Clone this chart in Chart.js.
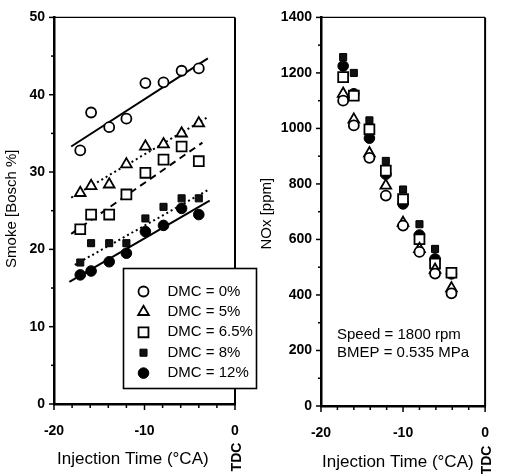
<!DOCTYPE html>
<html><head><meta charset="utf-8">
<script src="https://cdn.jsdelivr.net/npm/chart.js@4.4.1/dist/chart.umd.min.js"></script>
<style>
html,body{margin:0;padding:0;background:#fff;}
#wrap{position:relative;width:508px;height:474px;overflow:hidden;background:#fff;}
#c1{position:absolute;left:0;top:0;}
#c2{position:absolute;left:260px;top:0;}
</style></head><body>
<div id="wrap">
<canvas id="c1" width="260" height="474"></canvas>
<canvas id="c2" width="248" height="474"></canvas>
</div>
<script>
// ---------- data ----------
const seriesLabels = ['DMC = 0%', 'DMC = 5%', 'DMC = 6.5%', 'DMC = 8%', 'DMC = 12%'];

// Smoke (Bosch %) vs injection time (°CA)
const smokeTime   = [-17.1, -15.9, -13.9, -12.0, -9.9, -7.9, -5.9, -4.0];
const smokeDMC0   = [32.8, 37.7, 35.8, 36.9, 41.5, 41.6, 43.1, 43.4];
const smokeDMC5   = [27.3, 28.2, 28.4, 31.0, 33.3, 33.6, 35.0, 36.3];
const smokeDMC65  = [22.6, 24.5, 24.5, 27.1, 29.9, 31.6, 33.3, 31.4];
const smokeDMC8   = [18.3, 20.8, 20.8, 20.8, 24.0, 25.5, 26.6, 26.6];
const smokeDMC12  = [16.7, 17.2, 18.4, 19.5, 22.3, 23.1, 25.3, 24.5];

// fitted trend lines (start, end) for the smoke plot
const fitDMC0  = [[-18.1, 33.3], [-3.0, 44.7]];
const fitDMC5  = [[-18.1, 26.7], [-3.0, 37.1]];
const fitDMC65 = [[-18.1, 22.0], [-3.6, 33.8]];
const fitDMC8  = [[-17.7, 18.0], [-2.8, 27.8]];
const fitDMC12 = [[-18.3, 15.8], [-2.8, 26.3]];

// NOx (ppm) vs injection time (°CA)
const noxTime   = [-17.3, -16.0, -14.1, -12.1, -10.0, -8.0, -6.1, -4.1];
const noxDMC0   = [1100, 1011, 894, 758, 650, 555, 477, 406];
const noxDMC5   = [1125, 1032, 911, 794, 660, 566, 491, 424];
const noxDMC65  = [1185, 1118, 997, 848, 745, 601, 513, 480];
const noxDMC8   = [1257, 1200, 1029, 883, 780, 655, 566, 484];
const noxDMC12  = [1225, 1125, 965, 835, 728, 616, 530, 476];

// axis ticks
const timeMin = -20, timeMax = 0, timeStep = 10;
const timeMinorTicks = [-18, -16, -14, -12, -8, -6, -4, -2];
const smokeMin = 0, smokeMax = 50, smokeStep = 10;
const smokeMinorTicks = [5, 15, 25, 35, 45];
const noxMin = 0, noxMax = 1400, noxStep = 200;
const noxMinorTicks = [100, 300, 500, 700, 900, 1100, 1300];

const annotationLines = ['Speed = 1800 rpm', 'BMEP = 0.535 MPa'];

// ---------- styles ----------
const FONT = '"Liberation Sans", Arial, Helvetica, sans-serif';
const markerStyles = [
  {style: 'circle',   r: 5,   fill: '#fff', bw: 1.8},
  {style: 'triangle', r: 6.2, fill: '#fff', bw: 1.8},
  {style: 'rect',     r: 7,   fill: '#fff', bw: 1.8},
  {style: 'rect',     r: 5,   fill: '#111', bw: 1},
  {style: 'circle',   r: 5.3, fill: '#000', bw: 1}
];
const fitDashes = [[], [2, 3], [7, 5], [2, 3], []];

function markerSet(label, xs, ys, st) {
  return {
    label, type: 'scatter',
    data: xs.map((x, i) => ({x, y: ys[i]})),
    pointStyle: st.style, pointRadius: st.r, pointHoverRadius: st.r,
    pointBackgroundColor: st.fill, pointBorderColor: '#000', pointBorderWidth: st.bw,
    showLine: false
  };
}
function fitSet(pts, dash) {
  return {
    type: 'scatter', label: '',
    data: pts.map(([x, y]) => ({x, y})),
    showLine: true, pointRadius: 0, borderColor: '#000', borderWidth: 2,
    borderDash: dash, fill: false
  };
}

function drawMarker(ctx, st, x, y) {
  ctx.save();
  ctx.beginPath();
  const r = st.r;
  if (st.style === 'circle') {
    ctx.arc(x, y, r, 0, Math.PI * 2);
  } else if (st.style === 'triangle') {
    for (let k = 0; k < 3; k++) {
      const a = k * 2 * Math.PI / 3;
      const px = x + Math.sin(a) * r, py = y - Math.cos(a) * r;
      if (k === 0) ctx.moveTo(px, py); else ctx.lineTo(px, py);
    }
    ctx.closePath();
  } else {
    const s = r * Math.SQRT1_2;
    ctx.rect(x - s, y - s, 2 * s, 2 * s);
  }
  ctx.fillStyle = st.fill; ctx.fill();
  ctx.lineWidth = st.bw; ctx.strokeStyle = '#000'; ctx.stroke();
  ctx.restore();
}

const decor = {
  id: 'decor',
  afterDraw(chart, args, o) {
    const {ctx, chartArea: a} = chart;
    const xs = chart.scales.x, ys = chart.scales.y;
    ctx.save();
    ctx.strokeStyle = '#000';
    // frame
    ctx.lineWidth = 1.3;
    ctx.beginPath(); ctx.moveTo(a.left, a.top); ctx.lineTo(a.right, a.top); ctx.stroke();
    ctx.lineWidth = 2;
    ctx.beginPath(); ctx.moveTo(a.right, a.top); ctx.lineTo(a.right, a.bottom); ctx.stroke();
    // y ticks (outward)
    ctx.lineWidth = 1.5;
    ys.ticks.forEach(t => {
      const p = ys.getPixelForValue(t.value);
      ctx.beginPath(); ctx.moveTo(a.left - 5, p); ctx.lineTo(a.left, p); ctx.stroke();
    });
    o.yMinor.forEach(v => {
      const p = ys.getPixelForValue(v);
      ctx.beginPath(); ctx.moveTo(a.left - 3, p); ctx.lineTo(a.left, p); ctx.stroke();
    });
    // x ticks (downward)
    xs.ticks.forEach(t => {
      const p = xs.getPixelForValue(t.value);
      ctx.beginPath(); ctx.moveTo(p, a.bottom); ctx.lineTo(p, a.bottom + 6); ctx.stroke();
    });
    o.xMinor.forEach(v => {
      const p = xs.getPixelForValue(v);
      ctx.beginPath(); ctx.moveTo(p, a.bottom); ctx.lineTo(p, a.bottom + 4); ctx.stroke();
    });
    // titles
    ctx.fillStyle = '#000';
    ctx.font = '17px ' + FONT;
    ctx.textAlign = 'left'; ctx.textBaseline = 'middle';
    ctx.fillText(o.xTitle, a.left + o.xTitleDx, o.xTitleY);
    ctx.save();
    ctx.translate(o.yTitleX, (a.top + a.bottom) / 2 + o.yTitleDy);
    ctx.rotate(-Math.PI / 2);
    ctx.font = '15px ' + FONT;
    ctx.textAlign = 'center';
    ctx.fillText(o.yTitle, 0, 0);
    ctx.restore();
    // TDC
    ctx.save();
    ctx.translate(a.right + 2, o.tdcY);
    ctx.rotate(-Math.PI / 2);
    ctx.font = 'bold 14px ' + FONT;
    ctx.textAlign = 'center';
    ctx.fillText('TDC', 0, 0);
    ctx.restore();
    // legend
    if (o.legend) {
      const L = o.legend;
      ctx.fillStyle = '#fff';
      ctx.fillRect(L.x, L.y, L.w, L.h);
      ctx.lineWidth = 1.6; ctx.strokeStyle = '#000';
      ctx.strokeRect(L.x, L.y, L.w, L.h);
      ctx.font = '15px ' + FONT;
      ctx.textAlign = 'left'; ctx.textBaseline = 'middle';
      seriesLabels.forEach((lab, i) => {
        const yy = L.y + L.first + i * L.step;
        drawMarker(ctx, markerStyles[i], L.x + L.mx, yy);
        ctx.fillStyle = '#000';
        ctx.fillText(lab, L.x + L.tx, yy);
      });
    }
    // annotation
    if (o.notes) {
      ctx.fillStyle = '#000';
      ctx.font = '15px ' + FONT;
      ctx.textAlign = 'left'; ctx.textBaseline = 'middle';
      o.notes.lines.forEach((s, i) => ctx.fillText(s, o.notes.x, o.notes.y + i * o.notes.step));
    }
    ctx.restore();
  }
};

const plainNumber = v => String(v);

function xScale(h) {
  return {
    type: 'linear', position: 'bottom', min: timeMin, max: timeMax,
    ticks: {stepSize: timeStep, padding: 19, color: '#000', callback: plainNumber,
            font: {family: FONT, size: 14, weight: 'bold'}},
    grid: {display: false, drawTicks: false},
    border: {display: true, color: '#000', width: 2.5},
    afterFit(s) { s.height = h; }
  };
}
function yScale(min, max, step, w) {
  return {
    type: 'linear', position: 'left', min, max,
    ticks: {stepSize: step, padding: 9, color: '#000', callback: plainNumber,
            font: {family: FONT, size: 14, weight: 'bold'}},
    grid: {display: false, drawTicks: false},
    border: {display: true, color: '#000', width: 2.5},
    afterFit(s) { s.width = w; }
  };
}

const smokeSeries = [smokeDMC0, smokeDMC5, smokeDMC65, smokeDMC8, smokeDMC12];
const fits = [fitDMC0, fitDMC5, fitDMC65, fitDMC8, fitDMC12];
const noxSeries = [noxDMC0, noxDMC5, noxDMC65, noxDMC8, noxDMC12];

new Chart(document.getElementById('c1'), {
  type: 'scatter',
  data: {
    datasets: [
      ...smokeSeries.map((s, i) => markerSet(seriesLabels[i], smokeTime, s, markerStyles[i])),
      ...fits.map((f, i) => fitSet(f, fitDashes[i]))
    ]
  },
  options: {
    responsive: false, animation: false, devicePixelRatio: 1,
    layout: {padding: {top: 10, right: 25, left: 0, bottom: 0}},
    plugins: {
      legend: {display: false}, tooltip: {enabled: false},
      decor: {
        yMinor: smokeMinorTicks, xMinor: timeMinorTicks,
        xTitle: 'Injection Time (°CA)', xTitleDx: 3, xTitleY: 459,
        yTitle: 'Smoke [Bosch %]', yTitleX: 12, yTitleDy: -2, tdcY: 457,
        legend: {x: 123.5, y: 268.5, w: 133, h: 120, first: 23, step: 20.4, mx: 20, tx: 44}
      }
    },
    scales: {x: xScale(70), y: yScale(smokeMin, smokeMax, smokeStep, 54)}
  },
  plugins: [decor]
});

new Chart(document.getElementById('c2'), {
  type: 'scatter',
  data: {
    datasets: noxSeries.map((s, i) => markerSet(seriesLabels[i], noxTime, s, markerStyles[i]))
  },
  options: {
    responsive: false, animation: false, devicePixelRatio: 1,
    layout: {padding: {top: 13, right: 8, left: 0, bottom: 0}},
    plugins: {
      legend: {display: false}, tooltip: {enabled: false},
      decor: {
        yMinor: noxMinorTicks, xMinor: timeMinorTicks,
        xTitle: 'Injection Time (°CA)', xTitleDx: 1, xTitleY: 462,
        yTitle: 'NOx [ppm]', yTitleX: 7, yTitleDy: 2, tdcY: 460,
        notes: {lines: annotationLines, x: 77, y: 335, step: 18}
      }
    },
    scales: {x: xScale(68), y: yScale(noxMin, noxMax, noxStep, 61)}
  },
  plugins: [decor]
});
</script>
</body></html>
